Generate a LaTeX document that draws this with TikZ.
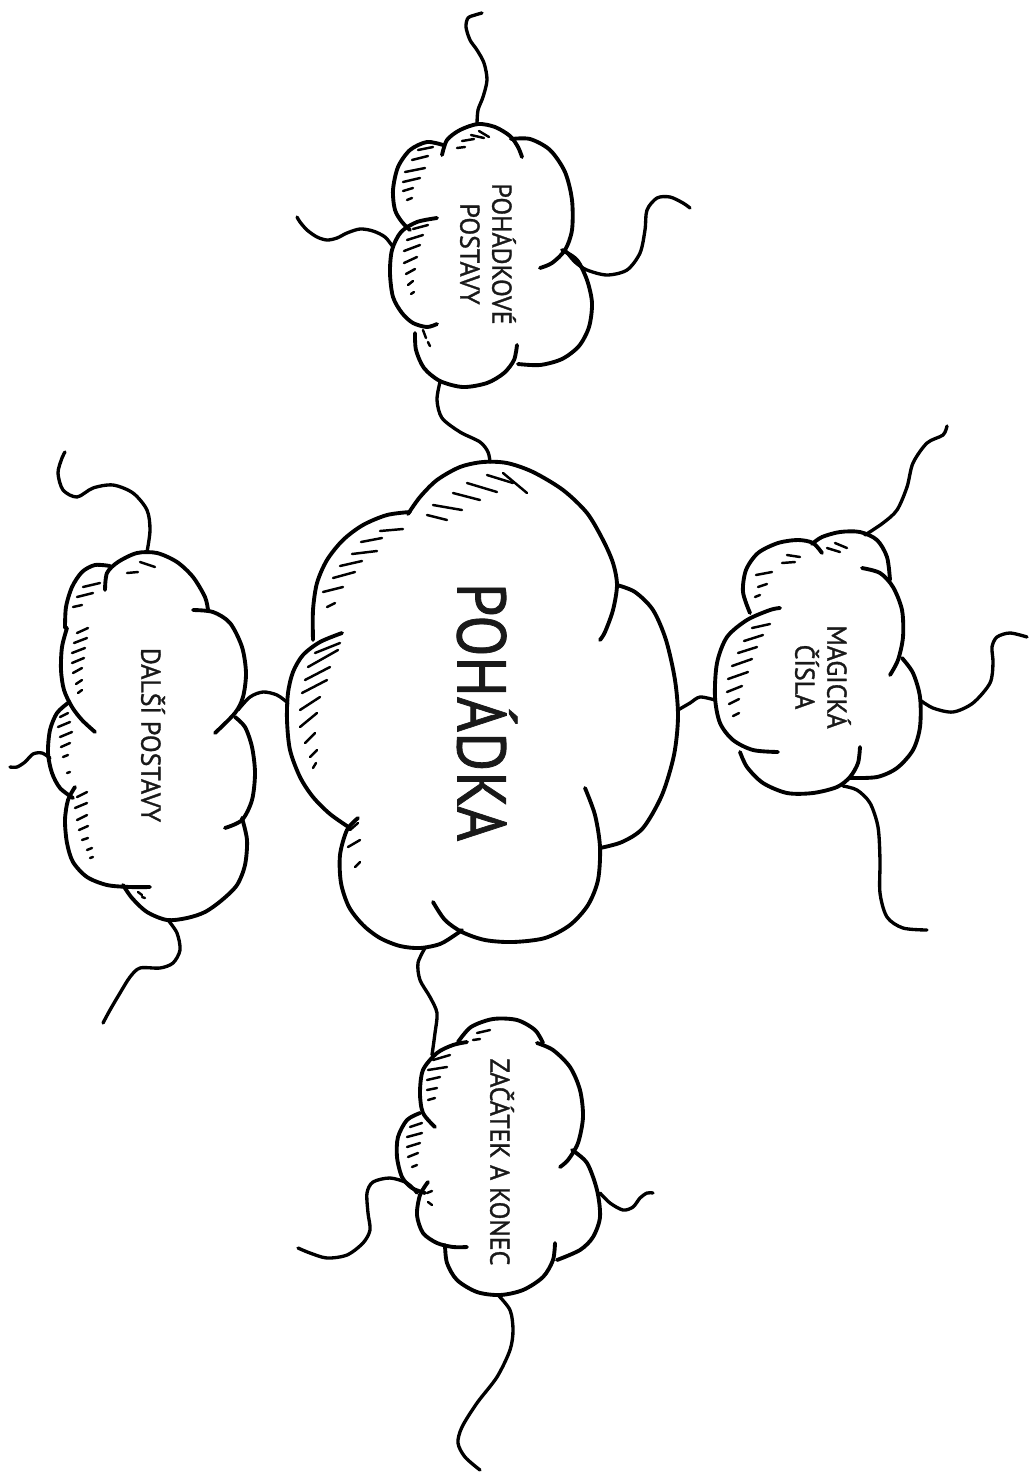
\documentclass[tikz,border=0pt]{standalone}
\usepackage{fontspec}
\setmainfont{PT Sans}
\newfontfamily\cloudfont{PT Sans}[FakeBold=1.2]
\usepackage{graphicx}
\begin{document}
\begin{tikzpicture}[x=0.02cm,y=-0.02cm,
  outline/.style={line width=2.2pt, line cap=round, line join=round},
  wire/.style={line width=1.9pt, line cap=round, line join=round},
  hatch/.style={line width=1.4pt, line cap=round},
  bigtext/.style={font=\cloudfont\fontsize{38}{40}\selectfont, rotate=-90, text=black!90, inner sep=0pt},
  smalltext/.style={font=\cloudfont\fontsize{15.5}{18.2}\selectfont, rotate=-90, align=center, text=black!90, inner sep=0pt}]
\useasboundingbox (0,0) rectangle (1029,1472);

% ---------------- central cloud ----------------
\draw[outline] plot[smooth] coordinates {(313,640) (313,610) (317,583) (327,560) (343,540) (363,525) (387,515) (410,512)};
\draw[outline] plot[smooth] coordinates {(408,514) (420,497) (437,480) (460,467) (483,462) (507,463) (533,472) (563,490) (587,513) (603,540) (613,563) (617,585) (613,610) (605,632) (600,640)};
\draw[outline] plot[smooth] coordinates {(617,585) (635,592) (653,610) (666,640) (675,680) (678,717) (674,755) (662,795) (643,828) (622,842) (600,848)};
\draw[outline] plot[smooth] coordinates {(585,788) (595,815) (600,847) (598,880) (588,905) (570,925) (545,938) (513,942) (485,940) (462,932) (445,920) (433,902)};
\draw[outline] plot[smooth] coordinates {(358,818) (347,830) (340,855) (341,883) (349,907) (363,925) (380,938) (400,946) (420,948) (440,944) (455,935) (462,930)};
\draw[outline] plot[smooth] coordinates {(342,633) (320,642) (303,655) (293,672) (288,693) (287,720) (290,750) (300,777) (313,797) (330,814) (350,828)};
\foreach \a/\b/\c/\d in {315/653/340/643, 308/667/338/650, 305/680/330/667, 302/693/327/680, 300/710/320/697, 300/727/317/713, 305/743/315/733, 310/757/317/750, 313/768/316/763,
  327/607/335/603, 323/592/343/587, 333/578/355/572, 340/566/362/561, 352/554/377/551, 361/542/382/538, 380/531/403/529,
  427/515/447/520, 433/505/462/510, 453/493/480/500, 467/483/497/492, 487/475/513/483, 503/473/527/493,
  350/830/358/823, 348/847/360/840, 355/867/360/862}
  \draw[hatch] (\a,\b) -- (\c,\d);
\node[bigtext] (main) at (487,712) {\scalebox{0.9}[1.03]{POHÁDKA}};
\coordinate (cenT) at (490,462);
\coordinate (cenL) at (288,703);
\coordinate (cenR) at (678,710);
\coordinate (cenB) at (425,948);

% ---------------- POHADKOVE POSTAVY ----------------
\draw[outline] plot[smooth] coordinates {(442,155) (447,140) (460,130) (478,124) (495,127) (510,136) (518,147) (522,157)};
\draw[outline] plot[smooth] coordinates {(511,139) (530,139) (550,150) (565,172) (572,200) (572,230) (565,250) (552,263) (540,268)};
\draw[outline] plot[smooth] coordinates {(562,250) (577,260) (587,280) (592,303) (589,327) (579,346) (562,359) (540,365) (518,364)};
\draw[outline] plot[smooth] coordinates {(517,345) (514,360) (504,373) (487,383) (463,387) (440,381) (424,368) (416,350) (415,333)};
\draw[outline] plot[smooth] coordinates {(437,218) (417,222) (401,232) (392,250) (390,273) (393,297) (402,313) (413,323) (427,327) (437,324)};
\draw[outline] plot[smooth] coordinates {(443,145) (427,142) (410,150) (398,167) (393,190) (395,210) (402,222) (410,230)};
\foreach \a/\b/\c/\d in {457/148/465/147, 462/141/474/139, 471/135/484/138, 479/131/489/137,
  418/150/433/147, 412/160/428/156, 405/172/425/168, 403/182/420/178, 403/191/413/188, 407/200/412/198,
  413/229/428/225, 407/240/423/235, 404/251/420/245, 404/263/417/257, 406/274/415/269, 408/285/413/281, 411/294/414/292,
  423/330/426/338, 428/342/430/346}
  \draw[hatch] (\a,\b) -- (\c,\d);
\node[smalltext] (pop) at (488,254) {\scalebox{0.95}[1]{POHÁDKOVÉ}\\\scalebox{0.95}[1]{POSTAVY}};
\coordinate (popB) at (440,382);
\coordinate (popT) at (477,124);
\coordinate (popL) at (393,247);
\coordinate (popR) at (565,250);
\coordinate (popTe) at (482,13);
\coordinate (popLe) at (297,217);
\coordinate (popRe) at (690,208);

% ---------------- MAGICKA CISLA ----------------
\draw[outline] plot[smooth] coordinates {(750,613) (743,592) (746,570) (758,553) (778,543) (798,540) (813,543) (822,553)};
\draw[outline] plot[smooth] coordinates {(812,544) (822,537) (840,532) (860,532) (877,540) (887,557) (890,580)};
\draw[outline] plot[smooth] coordinates {(862,568) (880,573) (893,587) (902,610) (903,637) (898,660) (890,675)};
\draw[outline] plot[smooth] coordinates {(902,658) (913,673) (920,697) (920,727) (913,750) (897,768) (877,777) (850,778)};
\draw[outline] plot[smooth] coordinates {(860,747) (858,763) (850,777) (837,787) (813,793) (787,793) (763,783) (747,767) (740,752)};
\draw[outline] plot[smooth] coordinates {(778,752) (753,750) (733,740) (720,723) (715,697) (717,663) (727,637) (747,620) (770,610) (780,608)};
\foreach \a/\b/\c/\d in {756/575/772/572, 758/587/767/584, 755/597/760/595, 787/555/800/557, 782/563/795/562,
  827/548/840/552, 835/543/847/548,
  752/628/770/624, 744/641/763/635, 738/653/757/647, 732/666/752/659, 728/679/748/672, 727/692/742/686, 729/704/739/699, 733/716/739/713}
  \draw[hatch] (\a,\b) -- (\c,\d);
\node[smalltext] (mag) at (823,677) {\scalebox{0.95}[1]{MAGICKÁ}\\\scalebox{0.95}[1]{ČÍSLA}};
\coordinate (magL) at (715,700);
\coordinate (magT) at (865,535);
\coordinate (magR) at (920,700);
\coordinate (magB) at (843,786);
\coordinate (magTe) at (947,426);
\coordinate (magRe) at (1027,637);
\coordinate (magBe) at (927,930);

% ---------------- DALSI POSTAVY ----------------
\draw[outline] plot[smooth] coordinates {(110,566) (95,565) (82,572) (72,587) (66,607) (65,628)};
\draw[outline] plot[smooth] coordinates {(105,590) (107,573) (118,562) (137,553) (157,553) (177,562) (193,577) (205,597) (208,610)};
\draw[outline] plot[smooth] coordinates {(193,610) (213,612) (230,623) (242,647) (246,673) (243,697) (235,713) (215,733)};
\draw[outline] plot[smooth] coordinates {(235,717) (245,727) (252,747) (255,773) (252,800) (242,820) (225,828)};
\draw[outline] plot[smooth] coordinates {(242,818) (247,840) (245,865) (237,885) (222,900) (205,912) (187,918) (167,920) (147,912) (132,898) (123,885)};
\draw[outline] plot[smooth] coordinates {(75,787) (68,800) (65,820) (67,843) (73,862) (87,877) (107,885) (130,887) (150,887)};
\draw[outline] plot[smooth] coordinates {(68,703) (57,713) (50,730) (48,753) (52,773) (60,788) (73,798)};
\draw[outline] plot[smooth] coordinates {(67,628) (62,647) (61,670) (64,690) (72,707) (82,720) (95,732)};
\foreach \a/\b/\c/\d in {127/573/138/572, 140/562/155/567,
  83/587/100/583, 77/597/93/593, 73/607/82/605,
  77/633/88/628, 74/643/87/638, 72/653/85/648, 72/663/84/658, 73/673/82/668, 76/684/82/680, 78/693/82/690,
  60/717/68/713, 58/727/70/722, 60/737/72/732, 61/747/70/743, 63/757/68/755, 67/773/70/772,
  77/797/87/792, 75/808/87/803, 77/820/87/815, 79/830/88/826, 82/840/88/838, 87/850/92/848, 90/858/93/857,
  138/892/142/895, 142/897/145/898}
  \draw[hatch] (\a,\b) -- (\c,\d);
\node[smalltext] (dal) at (153,735) {\scalebox{0.95}[1]{DALŠÍ POSTAVY}};
\coordinate (dalR) at (238,710);
\coordinate (dalT) at (147,552);
\coordinate (dalL) at (50,758);
\coordinate (dalB) at (168,920);
\coordinate (dalTe) at (65,452);
\coordinate (dalLe) at (10,767);
\coordinate (dalBe) at (103,1023);

% ---------------- ZACATEK A KONEC ----------------
\draw[outline] plot[smooth] coordinates {(458,1042) (471,1027) (493,1019) (517,1020) (535,1030) (543,1043)};
\draw[outline] plot[smooth] coordinates {(537,1043) (553,1050) (570,1067) (580,1090) (583,1117) (578,1143) (568,1160) (560,1167)};
\draw[outline] plot[smooth] coordinates {(572,1150) (587,1163) (597,1190) (600,1217) (593,1237) (580,1250) (557,1260)};
\draw[outline] plot[smooth] coordinates {(445,1245) (447,1263) (457,1280) (477,1292) (500,1295) (523,1290) (543,1277) (553,1260) (555,1243)};
\draw[outline] plot[smooth] coordinates {(428,1182) (420,1195) (417,1215) (423,1233) (437,1243) (453,1247) (467,1247)};
\draw[outline] plot[smooth] coordinates {(420,1113) (407,1120) (398,1137) (397,1157) (402,1177) (412,1188) (425,1193)};
\draw[outline] plot[smooth] coordinates {(435,1127) (423,1113) (420,1093) (423,1070) (437,1053) (453,1045) (467,1042)};
\foreach \a/\b/\c/\d in {477/1033/490/1030, 473/1040/480/1039,
  433/1060/450/1055, 428/1070/447/1067, 427/1080/440/1077, 427/1090/437/1088, 428/1100/435/1098,
  410/1127/422/1123, 407/1137/422/1133, 407/1147/420/1143, 408/1157/418/1153, 412/1167/417/1165,
  427/1193/432/1191, 428/1202/432/1205}
  \draw[hatch] (\a,\b) -- (\c,\d);
\node[smalltext] (zac) at (502,1162) {\scalebox{0.95}[1]{ZAČÁTEK A KONEC}};
\coordinate (zacT) at (432,1055);
\coordinate (zacL) at (417,1193);
\coordinate (zacR) at (600,1193);
\coordinate (zacB) at (498,1295);
\coordinate (zacLe) at (298,1248);
\coordinate (zacRe) at (653,1193);
\coordinate (zacBe) at (480,1470);

% ---------------- connectors ----------------
\draw[wire] plot[smooth] coordinates {(popB) (437,400) (442,418) (460,432) (480,442) (488,452) (cenT)};
\draw[wire] plot[smooth] coordinates {(dalR) (250,697) (263,692) (277,695) (cenL)};
\draw[wire] plot[smooth] coordinates {(cenR) (690,703) (700,697) (magL)};
\draw[wire] plot[smooth] coordinates {(cenB) (418,963) (420,980) (430,997) (437,1013) (435,1033) (zacT)};

% free wavy lines
\draw[wire] plot[smooth] coordinates {(popT) (478,110) (483,97) (487,80) (484,63) (477,50) (470,40) (466,27) (468,18) (475,15) (popTe)};
\draw[wire] plot[smooth] coordinates {(popL) (385,237) (373,231) (360,229) (347,233) (337,238) (327,240) (317,237) (307,230) (300,222) (popLe)};
\draw[wire] plot[smooth] coordinates {(popR) (575,262) (587,270) (607,275) (627,270) (640,253) (645,230) (647,210) (657,198) (670,197) (683,203) (popRe)};

\draw[wire] plot[smooth] coordinates {(magT) (883,523) (897,510) (907,487) (913,463) (927,443) (943,435) (magTe)};
\draw[wire] plot[smooth] coordinates {(magR) (933,708) (953,712) (973,703) (990,683) (993,663) (992,647) (997,637) (1010,633) (magRe)};
\draw[wire] plot[smooth] coordinates {(magB) (857,790) (870,803) (878,827) (880,860) (880,893) (887,917) (903,928) (magBe)};

\draw[wire] plot[smooth] coordinates {(dalT) (150,530) (147,510) (133,493) (113,485) (93,488) (77,497) (63,490) (58,473) (62,458) (dalTe)};
\draw[wire] plot[smooth] coordinates {(dalL) (42,753) (33,754) (25,762) (17,767) (dalLe)};
\draw[wire] plot[smooth] coordinates {(dalB) (177,933) (180,950) (173,963) (160,968) (140,968) (130,977) (120,993) (110,1010) (dalBe)};

\draw[wire] plot[smooth] coordinates {(zacL) (407,1183) (390,1178) (373,1182) (367,1193) (368,1213) (370,1230) (363,1243) (347,1255) (327,1258) (310,1253) (zacLe)};
\draw[wire] plot[smooth] coordinates {(zacR) (610,1203) (623,1210) (633,1207) (640,1198) (647,1193) (zacRe)};
\draw[wire] plot[smooth] coordinates {(zacB) (510,1310) (513,1330) (510,1350) (497,1377) (477,1403) (462,1427) (458,1443) (465,1457) (zacBe)};
\end{tikzpicture}
\end{document}
